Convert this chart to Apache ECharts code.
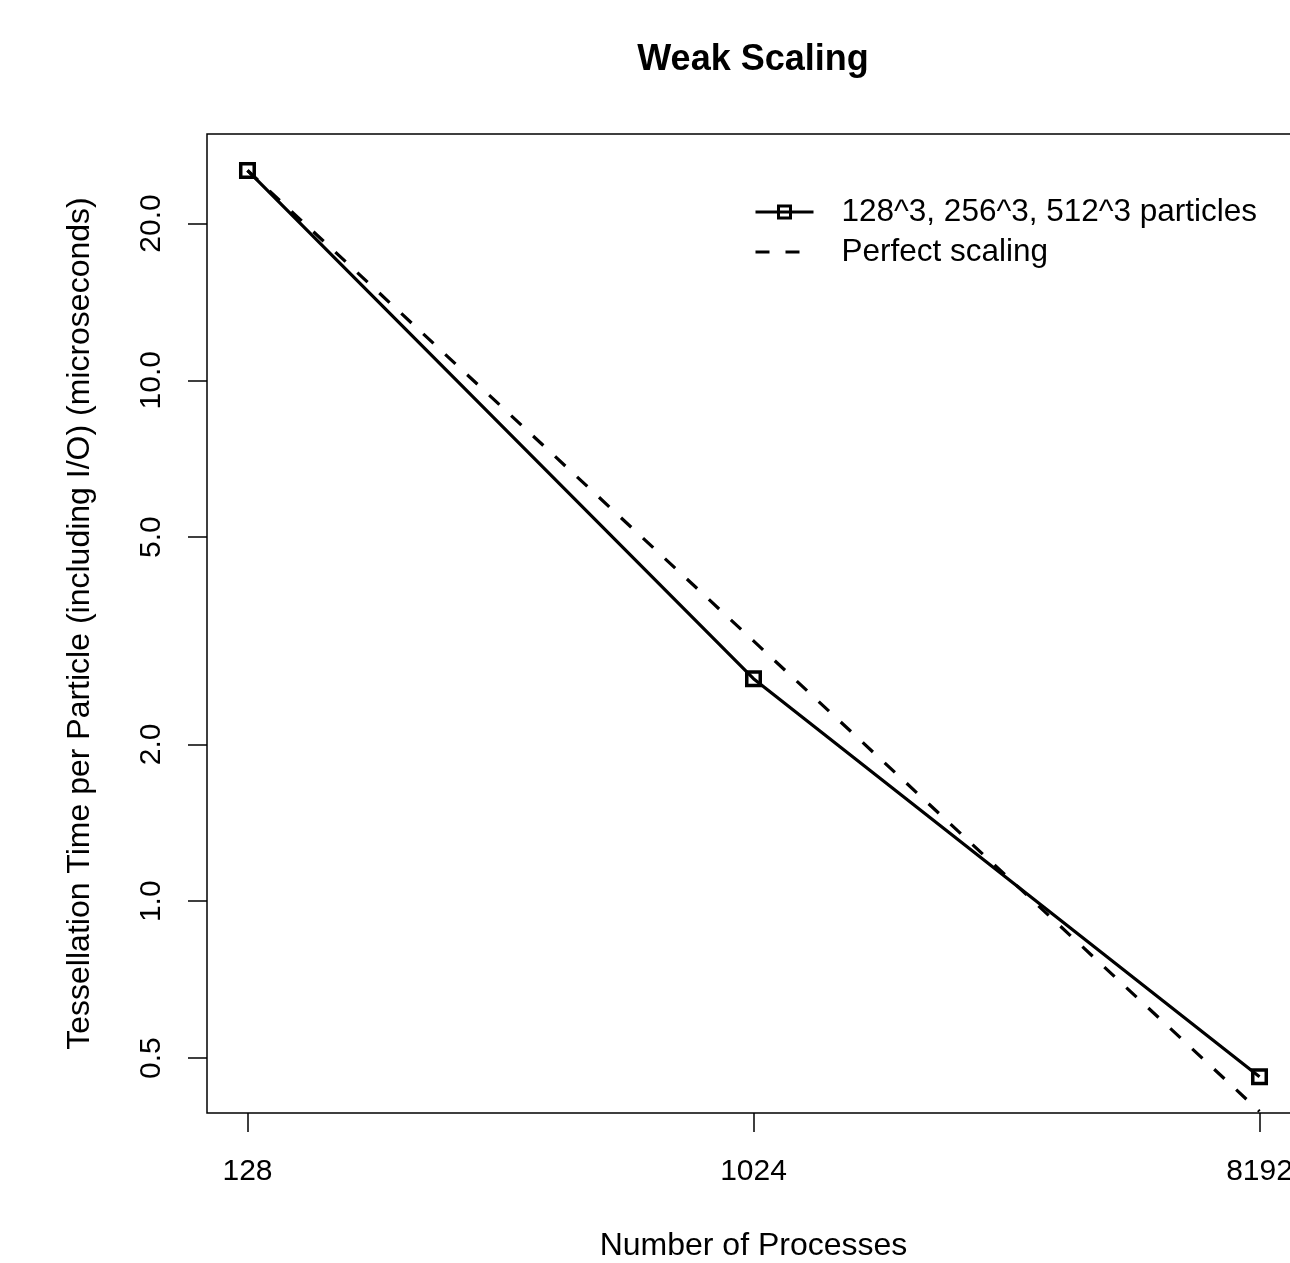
<!DOCTYPE html>
<html>
<head>
<meta charset="utf-8">
<script src="https://cdn.jsdelivr.net/npm/echarts@6/dist/echarts.min.js"></script>
<style>
  html, body { margin: 0; padding: 0; background: #fff; }
  #chart { width: 1290px; height: 1263px; }
</style>
</head>
<body>
<div id="chart"></div>
<script>
// ---- data ----
const processes = [128, 1024, 8192];
const measuredTime = [25.28, 2.674, 0.4603];
const perfectTime = [25.28, 3.16, 0.395];
const xTickLabels = [128, 1024, 8192];
const yTickLabels = [0.5, 1.0, 2.0, 5.0, 10.0, 20.0];
const seriesNames = ['128^3, 256^3, 512^3 particles', 'Perfect scaling'];

// axis extents (log space), as in the reference frame
const xMinLog = 6.76, xMaxLog = 13.24;
const yMinVal = 0.3922, yMaxVal = 29.70;

const FONT = 'Liberation Sans, Arial, Helvetica, sans-serif';

const toPairs = (xs, ys) => xs.map((x, i) => [Math.log2(x), Math.log10(ys[i])]);

const chart = echarts.init(document.getElementById('chart'), null, { renderer: 'canvas' });

const option = {
  animation: false,
  backgroundColor: '#ffffff',
  textStyle: { fontFamily: FONT, color: '#000' },
  title: {
    text: 'Weak Scaling',
    left: 753,
    top: 42,
    textAlign: 'center',
    padding: 0,
    textStyle: { fontFamily: FONT, fontSize: 36, fontWeight: 'bold', color: '#000' }
  },
  legend: {
    orient: 'vertical',
    left: 754,
    top: 196,
    padding: 0,
    itemGap: 8,
    itemWidth: 58,
    itemHeight: 15,
    align: 'left',
    selectedMode: false,
    data: [
      {
        name: seriesNames[0],
        lineStyle: { color: '#000', width: 3, type: 'solid' },
        itemStyle: { color: 'rgba(255,255,255,0)', borderColor: '#000', borderWidth: 3 }
      },
      {
        name: seriesNames[1],
        lineStyle: { color: '#000', width: 3, type: [14, 16], cap: 'butt' },
        itemStyle: { color: 'rgba(0,0,0,0)', borderColor: 'rgba(0,0,0,0)', borderWidth: 0, opacity: 0 }
      }
    ],
    textStyle: { fontFamily: FONT, fontSize: 31.5, color: '#000', padding: [0, 0, 0, 23], lineHeight: 31 }
  },
  grid: {
    left: 207,
    top: 134,
    width: 1093,
    height: 979,
    show: true,
    borderColor: '#000',
    borderWidth: 1.5,
    backgroundColor: 'transparent',
    containLabel: false,
    outerBoundsMode: 'none'
  },
  xAxis: {
    type: 'value',
    min: xMinLog,
    max: xMaxLog,
    name: 'Number of Processes',
    nameLocation: 'middle',
    nameGap: 117,
    nameTextStyle: { fontFamily: FONT, fontSize: 32, color: '#000' },
    axisLine: { show: false, onZero: false },
    axisTick: {
      show: true, inside: false, length: 19,
      lineStyle: { color: '#000', width: 1.5 },
      customValues: xTickLabels.map(v => Math.log2(v))
    },
    axisLabel: {
      show: true, margin: 44,
      fontFamily: FONT, fontSize: 30, color: '#000',
      customValues: xTickLabels.map(v => Math.log2(v)),
      formatter: v => String(Math.round(Math.pow(2, v)))
    },
    splitLine: { show: false }
  },
  yAxis: {
    type: 'value',
    min: Math.log10(yMinVal),
    max: Math.log10(yMaxVal),
    name: 'Tessellation Time per Particle (including I/O) (microseconds)',
    nameLocation: 'middle',
    nameGap: 111,
    nameTextStyle: { fontFamily: FONT, fontSize: 32, color: '#000' },
    axisLine: { show: false, onZero: false },
    axisTick: {
      show: true, inside: false, length: 19,
      lineStyle: { color: '#000', width: 1.5 },
      customValues: yTickLabels.map(v => Math.log10(v))
    },
    axisLabel: {
      show: true, margin: 40, rotate: 90,
      fontFamily: FONT, fontSize: 30, color: '#000',
      customValues: yTickLabels.map(v => Math.log10(v)),
      formatter: v => Math.pow(10, v).toFixed(1)
    },
    splitLine: { show: false }
  },
  series: [
    {
      name: seriesNames[0],
      type: 'line',
      data: toPairs(processes, measuredTime),
      symbol: 'rect',
      symbolSize: 13.5,
      showSymbol: true,
      lineStyle: { color: '#000', width: 3.2, type: 'solid' },
      itemStyle: { color: 'rgba(255,255,255,0)', borderColor: '#000', borderWidth: 3.5 },
      z: 3
    },
    {
      name: seriesNames[1],
      type: 'line',
      data: toPairs(processes, perfectTime),
      symbol: 'none',
      lineStyle: { color: '#000', width: 3.2, type: [14, 16], cap: 'butt' },
      itemStyle: { color: '#000' },
      z: 2
    }
  ]
};

chart.setOption(option);
</script>
</body>
</html>
